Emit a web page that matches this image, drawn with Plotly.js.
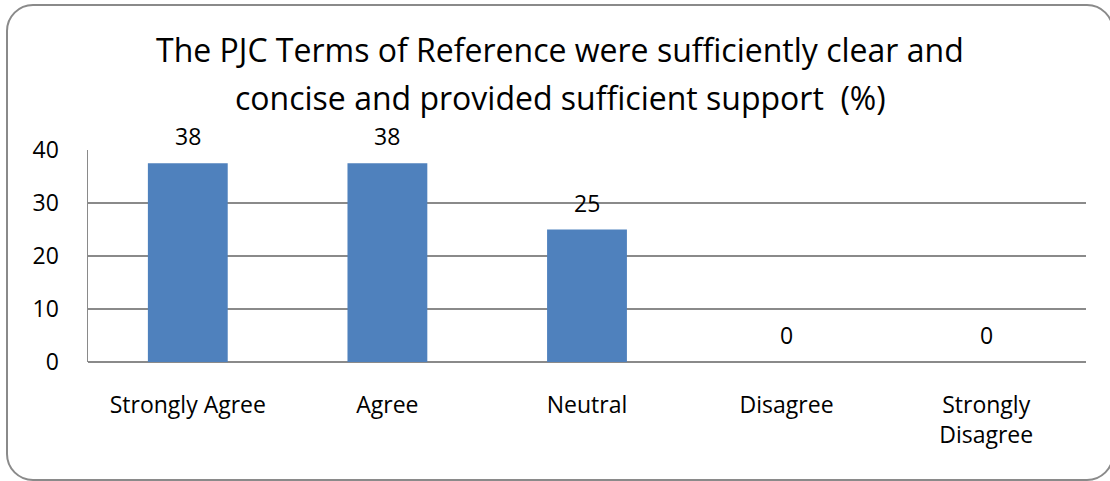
<!DOCTYPE html>
<html>
<head>
<meta charset="utf-8">
<script src="https://cdn.plot.ly/plotly-3.0.1.min.js"></script>
<style>
  html, body { margin: 0; padding: 0; background: #ffffff; overflow: hidden; }
  #wrap { position: absolute; left: 6px; top: 4px; width: 1108px; height: 477px;
          border: 2px solid #8a8a8a; border-radius: 27px; box-sizing: border-box; }
  #chart { position: absolute; left: 0; top: 0; width: 1110px; height: 481px; }
</style>
</head>
<body>
<div id="wrap"></div>
<div id="chart"></div>
<script>
const categories = ["Strongly Agree", "Agree", "Neutral", "Disagree", "Strongly<br>Disagree"];
const values = [37.5, 37.5, 25, 0, 0];
const labels = ["38", "38", "25", "0", "0"];
const yTicks = [0, 10, 20, 30, 40];
const titleLines = ["The PJC Terms of Reference were sufficiently clear and",
                    "concise and provided sufficient support  (%)"];

const font = "'Open Sans', sans-serif";

const trace = {
  type: "bar",
  x: categories,
  y: values,
  marker: { color: "#4F81BD" },
  hoverinfo: "none"
};

const annotations = [];
// data labels
categories.forEach((c, i) => {
  annotations.push({
    x: c, y: values[i], xref: "x", yref: "y",
    text: labels[i], showarrow: false,
    yanchor: "middle", yshift: 27,
    font: { family: font, size: 23, color: "#000000" }
  });
});
// title lines (positioned in pixels relative to plot area)
const plotTop = 150, plotH = 212;
const titleCenters = [50, 97];
titleLines.forEach((t, i) => {
  annotations.push({
    x: 0.473, xref: "paper",
    y: 1 + (plotTop - titleCenters[i]) / plotH, yref: "paper",
    text: t, showarrow: false,
    xanchor: "center", yanchor: "middle",
    font: { family: font, size: 32, color: "#000000" }
  });
});

const layout = {
  width: 1110, height: 481,
  margin: { l: 88, r: 24, t: 150, b: 119 },
  paper_bgcolor: "rgba(0,0,0,0)",
  plot_bgcolor: "rgba(0,0,0,0)",
  showlegend: false,
  bargap: 0.6,
  annotations: annotations,
  xaxis: {
    type: "category",
    showgrid: false,
    showline: false,
    ticks: "",
    ticklabelstandoff: 27,
    tickfont: { family: font, size: 23, color: "#000000" },
    zeroline: false
  },
  yaxis: {
    range: [0, 40],
    tickvals: yTicks,
    ticktext: yTicks.map(String),
    showgrid: true,
    gridcolor: "#8a8a8a",
    gridwidth: 1.5,
    showline: true,
    linecolor: "#8a8a8a",
    linewidth: 1.5,
    zeroline: true,
    zerolinecolor: "#8a8a8a",
    zerolinewidth: 1.5,
    ticks: "",
    ticklabelstandoff: 23,
    tickfont: { family: font, size: 23, color: "#000000" }
  }
};

Plotly.newPlot("chart", [trace], layout, { displayModeBar: false, staticPlot: true });
</script>
</body>
</html>
